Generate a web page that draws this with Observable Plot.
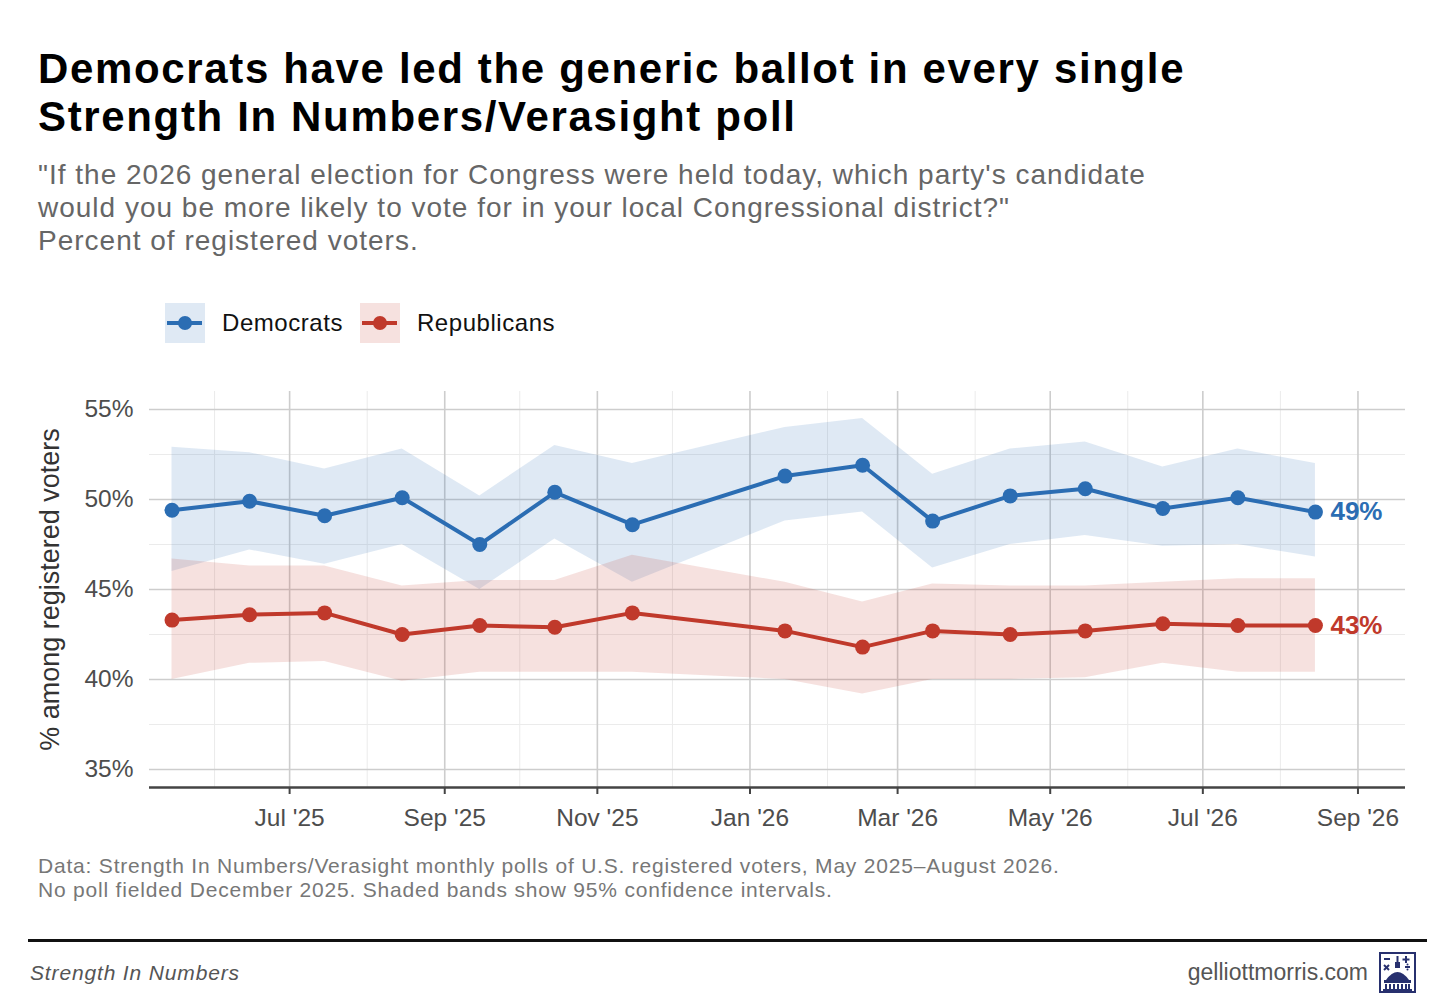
<!DOCTYPE html>
<html><head><meta charset="utf-8">
<script src="https://cdn.jsdelivr.net/npm/d3@7"></script>
<script src="https://cdn.jsdelivr.net/npm/@observablehq/plot@0.6"></script>
<style>
body{margin:0;background:#fff;font-family:"Liberation Sans",Arial,Helvetica,sans-serif;}
#wrap{position:relative;width:1456px;height:1001px;overflow:hidden;background:#fff}
.abs{position:absolute}
#title{left:38px;top:45px;font-size:42px;line-height:48px;font-weight:700;color:#000;white-space:nowrap;letter-spacing:1.65px}
#subtitle{left:38px;top:158px;font-size:28px;line-height:33px;color:#666;white-space:nowrap;letter-spacing:1.0px}
#legend{left:165px;top:303px;display:flex;align-items:center;font-size:24px;color:#111;height:40px;letter-spacing:0.55px}
.key{width:40px;height:40px;display:block}
.lab{margin-left:17px;margin-right:17px}
#chart{left:0;top:380px}
#notes{left:38px;top:854px;font-size:21px;line-height:24px;color:#777;white-space:nowrap;letter-spacing:0.8px}
#rule{left:28px;top:939px;width:1399px;height:2.5px;background:#111}
#brand{left:30px;top:961px;font-size:21px;font-style:italic;color:#555;letter-spacing:0.85px}
#site{right:88px;top:959px;font-size:23px;color:#555}
#logo{left:1379px;top:952px}
</style></head><body>
<div id="wrap">
  <div id="title" class="abs">Democrats have led the generic ballot in every single<br>Strength In Numbers/Verasight poll</div>
  <div id="subtitle" class="abs">"If the 2026 general election for Congress were held today, which party's candidate<br>would you be more likely to vote for in your local Congressional district?"<br>Percent of registered voters.</div>
  <div id="legend" class="abs"></div>
  <div id="chart" class="abs"></div>
  <div id="notes" class="abs">Data: Strength In Numbers/Verasight monthly polls of U.S. registered voters, May 2025–August 2026.<br>No poll fielded December 2025. Shaded bands show 95% confidence intervals.</div>
  <div id="rule" class="abs"></div>
  <div id="brand" class="abs">Strength In Numbers</div>
  <div id="site" class="abs">gelliottmorris.com</div>
  <div id="logo" class="abs">
    <svg width="37" height="41" viewBox="0 0 37 41">
      <rect x="1" y="1" width="35" height="39" fill="#fff" stroke="#27306e" stroke-width="2"/>
      <g stroke="#27306e" stroke-width="2" fill="none">
        <line x1="5" y1="7" x2="11" y2="7"/>
        <line x1="27" y1="4" x2="27" y2="11"/><line x1="23.5" y1="7.5" x2="30.5" y2="7.5"/>
        <line x1="5" y1="13" x2="10" y2="18"/><line x1="10" y1="13" x2="5" y2="18"/>
        <line x1="26" y1="15" x2="31" y2="15"/>
      </g>
      <circle cx="28.5" cy="12.5" r="1" fill="#27306e"/><circle cx="28.5" cy="17.5" r="1" fill="#27306e"/>
      <rect x="17.5" y="4" width="2" height="6" fill="#27306e"/>
      <rect x="16" y="10" width="5" height="6" fill="#27306e"/>
      <path d="M7 28 Q18.5 12 30 28 Z" fill="#27306e"/>
      <rect x="5" y="28" width="27" height="3" fill="#27306e"/>
      <g fill="#27306e"><rect x="6" y="32" width="2" height="5"/><rect x="10" y="32" width="2" height="5"/><rect x="14" y="32" width="2" height="5"/><rect x="18" y="32" width="2" height="5"/><rect x="22" y="32" width="2" height="5"/><rect x="26" y="32" width="2" height="5"/><rect x="29" y="32" width="2" height="5"/></g>
      <rect x="4" y="37" width="29" height="2" fill="#27306e"/>
    </svg>
  </div>
</div>
<script>
// ---- data ----
const pollDates = ["2025-05-15","2025-06-15","2025-07-15","2025-08-15","2025-09-15","2025-10-15","2025-11-15","2026-01-15","2026-02-15","2026-03-15","2026-04-15","2026-05-15","2026-06-15","2026-07-15","2026-08-15"];
const demValues = [49.4, 49.9, 49.1, 50.1, 47.5, 50.4, 48.6, 51.3, 51.9, 48.8, 50.2, 50.6, 49.5, 50.1, 49.3];
const demLow    = [46.0, 47.2, 46.4, 47.5, 45.0, 47.8, 45.4, 48.8, 49.3, 46.2, 47.5, 48.0, 47.4, 47.5, 46.8];
const demHigh   = [52.9, 52.6, 51.7, 52.8, 50.2, 53.0, 52.0, 54.0, 54.5, 51.4, 52.8, 53.2, 51.8, 52.8, 52.0];
const repValues = [43.3, 43.6, 43.7, 42.5, 43.0, 42.9, 43.7, 42.7, 41.8, 42.7, 42.5, 42.7, 43.1, 43.0, 43.0];
const repLow    = [40.0, 40.9, 41.0, 39.9, 40.4, 40.4, 40.4, 40.0, 39.2, 40.0, 40.0, 40.1, 40.9, 40.4, 40.4];
const repHigh   = [46.7, 46.3, 46.3, 45.2, 45.5, 45.5, 46.9, 45.4, 44.3, 45.3, 45.2, 45.2, 45.4, 45.6, 45.6];
const parties = ["Democrats", "Republicans"];
const partyColors = ["#2b6db3", "#c0392b"];
const yTicks = [35, 40, 45, 50, 55];
const yMinor = [37.5, 42.5, 47.5, 52.5];
const yTickLabels = ["35%", "40%", "45%", "50%", "55%"];
const xMajor = ["2025-07-01","2025-09-01","2025-11-01","2026-01-01","2026-03-01","2026-05-01","2026-07-01","2026-09-01"];
const xTickLabels = ["Jul '25","Sep '25","Nov '25","Jan '26","Mar '26","May '26","Jul '26","Sep '26"];
const xMinor = ["2025-06-01","2025-08-01","2025-10-01","2025-12-01","2026-02-01","2026-04-01","2026-06-01","2026-08-01"];
const xDomain = ["2025-05-06", "2026-09-20"];
const yDomain = [34, 56];

// ---- build ----
const series = [
  {party: parties[0], v: demValues, lo: demLow, hi: demHigh},
  {party: parties[1], v: repValues, lo: repLow, hi: repHigh}
];
const rows = series.flatMap(s => pollDates.map((d, i) => ({party: s.party, date: new Date(d), value: s.v[i], lo: s.lo[i], hi: s.hi[i]})));
const lastRows = series.map(s => ({party: s.party, date: new Date(pollDates[pollDates.length - 1]), value: s.v[s.v.length - 1]}));
const xMajorDates = xMajor.map(d => new Date(d));
const xLabelMap = new Map(xMajorDates.map((d, i) => [+d, xTickLabels[i]]));
const yLabelMap = new Map(yTicks.map((d, i) => [d, yTickLabels[i]]));

const chart = Plot.plot({
  width: 1456, height: 470,
  marginTop: 11, marginBottom: 63, marginLeft: 149, marginRight: 51,
  style: {fontFamily: "Liberation Sans, Arial, sans-serif", background: "transparent", overflow: "visible"},
  x: {type: "utc", domain: xDomain.map(d => new Date(d))},
  y: {domain: yDomain},
  color: {domain: parties, range: partyColors},
  marks: [
    Plot.ruleX(xMinor.map(d => new Date(d)), {stroke: "#ebebeb", strokeWidth: 1}),
    Plot.ruleY(yMinor, {stroke: "#ebebeb", strokeWidth: 1}),
    Plot.ruleX(xMajorDates, {stroke: "#cdcdcd", strokeWidth: 1.6}),
    Plot.ruleY(yTicks, {stroke: "#cdcdcd", strokeWidth: 1.6}),
    Plot.areaY(rows, {x: "date", y1: "lo", y2: "hi", z: "party", fill: "party", fillOpacity: 0.15}),
    Plot.lineY(rows, {x: "date", y: "value", z: "party", stroke: "party", strokeWidth: 4}),
    Plot.dot(rows, {x: "date", y: "value", fill: "party", r: 7.5}),
    Plot.text(lastRows, {x: "date", y: "value", text: d => Math.round(d.value) + "%", fill: "party", dx: 15, textAnchor: "start", fontWeight: "bold", fontSize: 26}),
    Plot.ruleY([yDomain[0]], {stroke: "#444", strokeWidth: 2.5}),
    Plot.axisX({ticks: xMajorDates, tickFormat: d => xLabelMap.get(+d), tickSize: 7, tickPadding: 14, fontSize: 24.5, stroke: "#444", strokeWidth: 2, fill: "#4d4d4d", label: null}),
    Plot.axisY({ticks: yTicks, tickFormat: d => yLabelMap.get(d), tickSize: 0, tickPadding: 16, fontSize: 24.5, fill: "#4d4d4d", label: null}),
    Plot.axisY({ticks: [], label: "% among registered voters", labelAnchor: "center", labelArrow: "none", labelOffset: 110, fontSize: 27, fill: "#333"})
  ]
});
document.getElementById("chart").appendChild(chart);

// ---- legend ----
const legend = document.getElementById("legend");
parties.forEach((p, i) => {
  const c = partyColors[i];
  const bg = i === 0 ? "rgba(43,109,179,0.15)" : "rgba(192,57,43,0.15)";
  legend.insertAdjacentHTML("beforeend",
    `<svg class="key" width="40" height="40"><rect width="40" height="40" fill="${bg}"/><line x1="2" y1="20" x2="37" y2="20" stroke="${c}" stroke-width="4"/><circle cx="20" cy="20" r="7" fill="${c}"/></svg><span class="lab">${p}</span>`);
});
</script>
</body></html>
